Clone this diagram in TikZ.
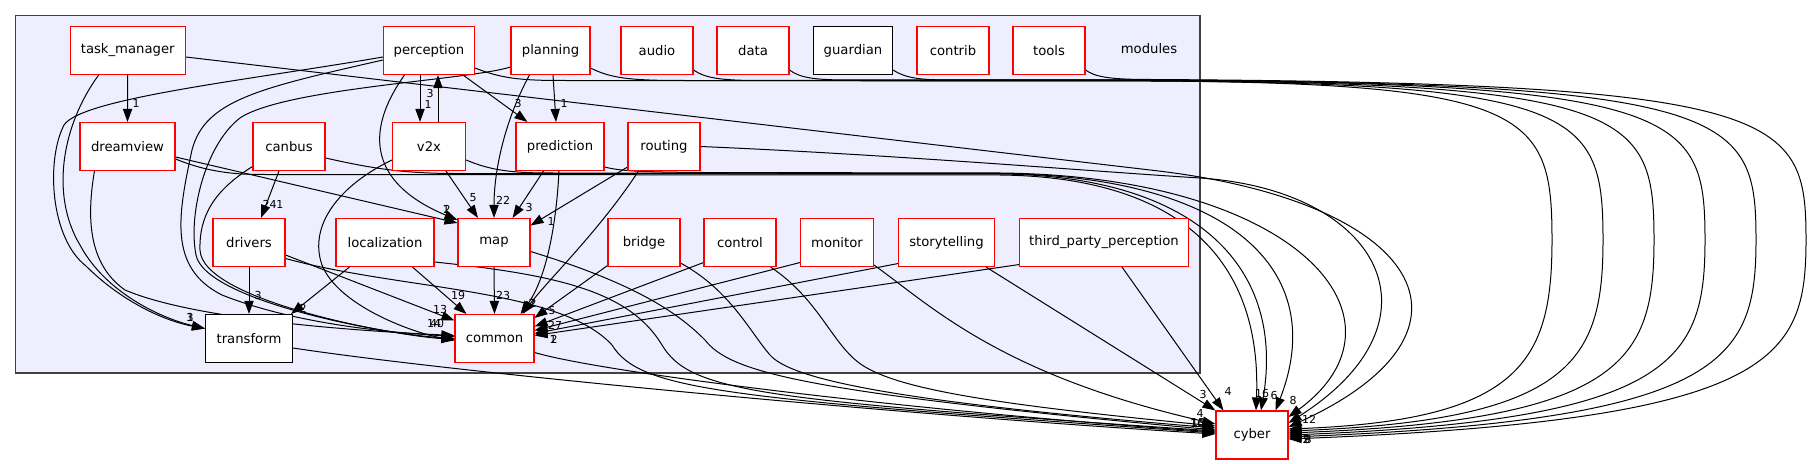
\documentclass[tikz,border=0pt]{standalone}
\usepackage{fontspec}
\setmainfont{DejaVu Sans}
\usetikzlibrary{calc,arrows.meta}
\pgfdeclarelayer{clu}
\pgfdeclarelayer{edg}
\pgfsetlayers{clu,edg,main}
\definecolor{clfill}{HTML}{EEEEFF}
\tikzset{
  dirbox/.style={draw=red, fill=white, line width=0.55pt, minimum height=24pt, inner sep=0pt, font=\fontsize{6.6}{8}\selectfont},
  leafbox/.style={dirbox, draw=black},
  dep/.style={draw=black, line width=0.5pt, -{Triangle[length=6.5pt,width=4.6pt]}},
  lab/.style={font=\fontsize{5.5}{6}\selectfont, inner sep=0pt},
}
\begin{document}
\begin{tikzpicture}[x=0.5pt,y=-0.5pt]
\useasboundingbox (0,0) rectangle (1814,464);
\begin{pgfonlayer}{clu}
\fill[clfill] (15.8,15.7) rectangle (1200,373);
\draw[black!75, line width=0.6pt] (15.8,15.7) rectangle (1200,373);
\end{pgfonlayer}
% nodes
\node[dirbox, minimum width=57.5pt] (tm) at (127.7,50.5) {task\_manager};
\node[dirbox, minimum width=45.5pt] (pe) at (429,50.5) {perception};
\node[dirbox, minimum width=39.5pt] (pl) at (550.5,50.5) {planning};
\node[dirbox, minimum width=36pt] (au) at (657,50.5) {audio};
\node[dirbox, minimum width=36pt] (da) at (753,50.5) {data};
\node[leafbox, minimum width=39.5pt] (gu) at (853,50.5) {guardian};
\node[dirbox, minimum width=36pt] (cn) at (953,50.5) {contrib};
\node[dirbox, minimum width=36pt] (tl) at (1049,50.5) {tools};
\node[font=\fontsize{6.6}{8}\selectfont, inner sep=0pt] (modlab) at (1149,49) {modules};
\node[dirbox, minimum width=47.5pt] (dv) at (127.5,146.5) {dreamview};
\node[dirbox, minimum width=36pt] (cb) at (289,146.5) {canbus};
\node[dirbox, minimum width=36.5pt] (v2) at (429,146.5) {v2x};
\node[dirbox, minimum width=44pt] (pr) at (560,146.5) {prediction};
\node[dirbox, minimum width=36pt] (ro) at (664,146.5) {routing};
\node[dirbox, minimum width=36pt] (dr) at (249,242.5) {drivers};
\node[dirbox, minimum width=49pt] (lo) at (385,242.5) {localization};
\node[dirbox, minimum width=36pt] (ma) at (494,242.5) {map};
\node[dirbox, minimum width=36pt] (br) at (644,242.5) {bridge};
\node[dirbox, minimum width=36pt] (ct) at (740,242.5) {control};
\node[dirbox, minimum width=36.5pt] (mo) at (837,242.5) {monitor};
\node[dirbox, minimum width=48pt] (st) at (946.5,242.5) {storytelling};
\node[dirbox, minimum width=84.5pt] (tp) at (1104,242.5) {third\_party\_perception};
\node[leafbox, minimum width=43.5pt] (tr) at (249,338.5) {transform};
\node[dirbox, minimum width=39.5pt] (co) at (494.5,338.5) {common};
\node[dirbox, minimum width=36pt] (cy) at (1252,435) {cyber};
\begin{pgfonlayer}{edg}
% within top area
\draw[dep] (tm.south) -- (dv.north);
\draw[dep] ($(pe.south)+(-9,0)$) -- ($(v2.north)+(-9,0)$);
\draw[dep] ($(v2.north)+(9,0)$) -- ($(pe.south)+(9,0)$);
\draw[dep] ($(pe.south east)+(-12,0)$) -- ($(pr.north west)+(12,0)$);
\draw[dep] ($(pl.south)+(2.5,0)$) -- ($(pr.north)+(-4,0)$);
\draw[dep] ($(cb.south)+(-10,0)$) -- ($(dr.north)+(12,0)$);
% to transform
\draw[dep] ($(tm.south west)+(29,0)$) .. controls (62,125) and (50,195) .. (80,245) .. controls (105,292) and (160,318) .. ($(tr.west)+(0,-10)$);
\draw[dep] ($(pe.west)+(0,6.5)$) .. controls (250,80) and (82,98) .. (64,125) .. controls (46,160) and (50,238) .. (86,266) .. controls (118,298) and (160,320) .. ($(tr.west)+(0,-10)$);
\draw[dep] (dr.south) -- (tr.north);
\draw[dep] ($(lo.south west)+(14,0)$) -- ($(tr.north east)+(-2,0)$);
% to map
\draw[dep] ($(dv.east)+(0,10.5)$) -- ($(ma.north west)+(0,5)$);
\draw[dep] ($(pe.south west)+(21.5,0)$) .. controls (355,145) and (385,190) .. ($(ma.north west)+(0,2)$);
\draw[dep] ($(v2.south)+(17,0)$) -- ($(ma.north)+(-16,0)$);
\draw[dep] ($(pl.south west)+(19,0)$) .. controls (505,120) and (494,170) .. (ma.north);
\draw[dep] ($(pr.south west)+(28,0)$) -- ($(ma.north east)+(-18,0)$);
\draw[dep] ($(ro.south west)+(0,-4)$) -- ($(ma.east)+(0,-17)$);
% to common
\draw[dep] ($(dv.south west)+(15,0)$) .. controls (88,210) and (85,262) .. (125,290) .. controls (200,322) and (380,332) .. ($(co.west)+(0,-3)$);
\draw[dep] ($(pe.west)+(0,9.5)$) .. controls (260,88) and (205,100) .. (192,150) .. controls (178,215) and (168,268) .. (222,295) .. controls (300,326) and (400,333) .. ($(co.west)+(0,-2)$);
\draw[dep] ($(pl.west)+(0,16.5)$) .. controls (470,80) and (285,88) .. (240,118) .. controls (205,145) and (188,215) .. (196,255) .. controls (205,300) and (380,334) .. (co.west);
\draw[dep] ($(cb.south west)+(0,-4.5)$) .. controls (215,190) and (199,215) .. (200,250) .. controls (202,300) and (390,335) .. ($(co.west)+(0,1)$);
\draw[dep] ($(v2.west)+(0,13.5)$) .. controls (340,185) and (308,225) .. (322,265) .. controls (338,305) and (410,332) .. ($(co.west)+(0,2)$);
\draw[dep] ($(dr.east)+(0,12.5)$) -- ($(co.west)+(0,-18)$);
\draw[dep] ($(lo.south west)+(77,0)$) -- ($(co.north west)+(12,0)$);
\draw[dep] (ma.south) -- (co.north);
\draw[dep] ($(pr.south)+(-1,0)$) .. controls (556,230) and (545,280) .. ($(co.north east)+(-14,0)$);
\draw[dep] ($(ro.south west)+(11,0)$) .. controls (600,230) and (548,280) .. ($(co.north east)+(-12,0)$);
\draw[dep] ($(br.south west)+(0,-1.5)$) -- ($(co.north east)+(0,4)$);
\draw[dep] ($(ct.south west)+(0,-4.5)$) -- ($(co.east)+(0,-12)$);
\draw[dep] ($(mo.south west)+(0,-4.5)$) -- ($(co.east)+(0,-8)$);
\draw[dep] ($(st.south west)+(0,-3.5)$) -- ($(co.east)+(0,-5)$);
\draw[dep] ($(tp.south west)+(0,-2.5)$) -- ($(co.east)+(0,-3)$);
% to cyber from left
\draw[dep] ($(tr.east)+(0,9.5)$) .. controls (450,372) and (900,415) .. ($(cy.west)+(0,-1)$);
\draw[dep] ($(co.east)+(0,14)$) .. controls (600,372) and (900,410) .. ($(cy.west)+(0,-3)$);
\draw[dep] ($(ma.east)+(0,9)$) .. controls (640,285) and (680,315) .. (705,340) .. controls (730,372) and (800,392) .. ($(cy.west)+(0,-5)$);
\draw[dep] ($(lo.east)+(0,19.5)$) .. controls (560,275) and (630,292) .. (662,345) .. controls (690,392) and (760,400) .. ($(cy.west)+(0,-4)$);
\draw[dep] ($(dr.east)+(0,16)$) .. controls (400,290) and (560,288) .. (612,345) .. controls (640,390) and (720,398) .. ($(cy.west)+(0,-2)$);
\draw[dep] ($(br.south east)+(0,-4)$) .. controls (730,290) and (750,332) .. (770,355) .. controls (792,380) and (900,402) .. ($(cy.west)+(0,-7)$);
\draw[dep] ($(ct.south east)+(-6,0)$) .. controls (820,300) and (832,345) .. (862,365) .. controls (900,390) and (1000,405) .. ($(cy.west)+(0,-9)$);
\draw[dep] ($(mo.south east)+(0,-2)$) .. controls (930,305) and (1000,375) .. ($(cy.west)+(0,-11)$);
\draw[dep] ($(st.south east)+(-9,0)$) -- (cy.north west);
\draw[dep] ($(tp.south)+(18,0)$) -- ($(cy.north west)+(8,0)$);
% mid bundle to cyber
\draw[dep] ($(dv.east)+(0,12.5)$) .. controls (200,169) and (225,174.5) .. (260,174.5) -- (1000,175) .. controls (1180,177) and (1262,260) .. ($(cy.north)+(4,0)$);
\draw[dep] ($(cb.east)+(0,11.5)$) .. controls (370,168) and (400,173) .. (450,173.5) -- (1000,174) .. controls (1200,176) and (1285,270) .. ($(cy.north)+(9,0)$);
\draw[dep] ($(v2.east)+(0,13.5)$) .. controls (490,170) and (510,173) .. (550,173) -- (1000,173.5) .. controls (1230,176) and (1330,270) .. ($(cy.north east)+(-13,0)$);
\draw[dep] ($(pr.east)+(0,20.5)$) .. controls (620,171) and (640,172) .. (700,172.5) -- (1000,173) .. controls (1300,176) and (1420,320) .. ($(cy.east)+(0,-18)$);
\draw[dep] (ro.east) .. controls (900,155) and (1100,172) .. (1200,178) .. controls (1380,190) and (1450,320) .. ($(cy.east)+(0,-12)$);
\draw[dep] ($(tm.east)+(0,6.5)$) -- (1150,170) .. controls (1420,200) and (1500,330) .. ($(cy.east)+(0,-8)$);
% top bundle to cyber
\draw[dep] ($(pe.east)+(0,17.5)$) .. controls (500,78) and (520,80.5) .. (560,80.5) -- (1150,81) .. controls (1532,83) and (1552,115) .. (1552,240) .. controls (1552,360) and (1522,420) .. ($(cy.east)+(0,-6)$);
\draw[dep] ($(pl.east)+(0,17.5)$) .. controls (610,78) and (630,80.5) .. (680,80.5) -- (1150,81) .. controls (1583,83) and (1603,115) .. (1603,240) .. controls (1603,360) and (1573,420) .. ($(cy.east)+(0,-4)$);
\draw[dep] ($(au.east)+(0,19.5)$) .. controls (705,78) and (720,80.5) .. (760,80.5) -- (1150,80.5) .. controls (1634,83) and (1654,115) .. (1654,240) .. controls (1654,360) and (1624,420) .. ($(cy.east)+(0,-2)$);
\draw[dep] ($(da.east)+(0,19.5)$) .. controls (800,78) and (815,80) .. (850,80) -- (1150,80) .. controls (1685,83) and (1705,115) .. (1705,240) .. controls (1705,360) and (1675,420) .. (cy.east);
\draw[dep] ($(gu.east)+(0,19.5)$) .. controls (905,78) and (920,80) .. (950,80) -- (1150,80) .. controls (1736,83) and (1756,115) .. (1756,240) .. controls (1756,360) and (1726,420) .. ($(cy.east)+(0,2)$);
\draw[dep] ($(tl.east)+(0,19.5)$) .. controls (1095,77) and (1110,79.5) .. (1150,79.5) .. controls (1786,83) and (1806,115) .. (1806,240) .. controls (1806,360) and (1776,420) .. ($(cy.east)+(0,4)$);
\end{pgfonlayer}
% labels
\node[lab] at (136,103) {1};
\node[lab] at (190,317) {3};
\node[lab] at (190,317) {1};
\node[lab] at (430,93) {3};
\node[lab] at (428,104) {1};
\node[lab] at (518,104) {3};
\node[lab] at (564,103) {1};
\node[lab] at (273,204) {241};
\node[lab] at (258,295) {3};
\node[lab] at (303,308) {2};
\node[lab] at (446,209) {1};
\node[lab] at (447,209) {2};
\node[lab] at (473,198) {5};
\node[lab] at (503,200) {22};
\node[lab] at (529,207) {3};
\node[lab] at (551,221) {1};
\node[lab] at (440,309) {13};
\node[lab] at (434,323) {14};
\node[lab] at (437,323) {40};
\node[lab] at (458,295) {19};
\node[lab] at (503,295) {23};
\node[lab] at (532,303) {7};
\node[lab] at (533,303) {2};
\node[lab] at (552,311) {5};
\node[lab] at (555,325) {27};
\node[lab] at (553,339) {1};
\node[lab] at (554,339) {2};
\node[lab] at (1203,394) {3};
\node[lab] at (1228,391) {4};
\node[lab] at (1200,413) {4};
\node[lab] at (1197,423) {16};
\node[lab] at (1198,423) {15};
\node[lab] at (1262,393) {16};
\node[lab] at (1274,395) {6};
\node[lab] at (1293,400) {8};
\node[lab] at (1309,419) {12};
\node[lab] at (1307,439) {9};
\node[lab] at (1308,439) {8};
\node[lab] at (1306,439) {2};
\end{tikzpicture}
\end{document}
